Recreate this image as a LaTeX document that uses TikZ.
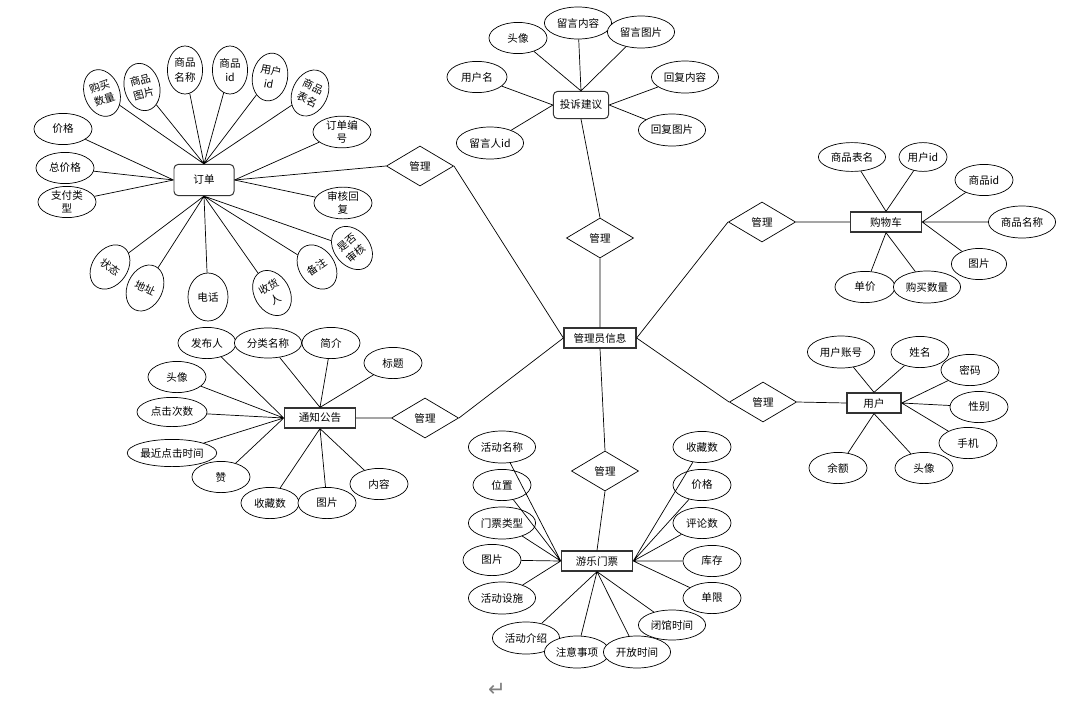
\documentclass[tikz,border=0pt]{standalone}
\usepackage{fontspec}
\setmainfont{Noto Sans CJK SC}
\newfontfamily\retfont{DejaVu Sans}
\usetikzlibrary{shapes.geometric}

\begin{document}
\begin{tikzpicture}[x=0.025cm, y=-0.025cm, line width=0.5pt, font=\fontsize{7.5}{9}\selectfont,
  attr/.style={ellipse, draw, fill=white, inner sep=0pt, minimum width=1.45cm, minimum height=0.78cm, align=center},
  wattr/.style={attr, minimum width=1.68cm, minimum height=0.8cm},
  vattr/.style={attr, minimum width=0.88cm, minimum height=1.2cm, font=\fontsize{7.5}{10}\selectfont},
  ent/.style={rectangle, draw=black!80, fill=white, line width=0.9pt, minimum width=1.78cm, minimum height=0.5cm, inner sep=1pt},
  rent/.style={ent, rounded corners=3pt, line width=0.7pt},
  rel/.style={diamond, draw, fill=white, inner sep=0pt, minimum width=1.68cm, minimum height=1cm}]
\useasboundingbox (0,0) rectangle (1073,711);

% centre
\node[ent, minimum width=1.8cm] (admin) at (600,338) {管理员信息};

% 订单
\node[rent, minimum width=1.5cm, minimum height=0.78cm] (order) at (204,180) {订单};
\node[attr] (o1) at (63,129) {价格};
\node[attr] (o2) at (65,168) {总价格};
\node[attr] (o3) at (67,202) {支付类\\型};
\node[vattr, rotate=20] (o4) at (102,93) {购买\\数量};
\node[vattr, rotate=15] (o5) at (142,87) {商品\\图片};
\node[vattr] (o6) at (185,70) {商品\\名称};
\node[vattr] (o7) at (230,70) {商品\\id};
\node[vattr, rotate=-10] (o8) at (270,77) {用户\\id};
\node[vattr, rotate=-25] (o9) at (310,93) {商品\\表名};
\node[attr] (o10) at (342,132) {订单编\\号};
\node[attr] (o11) at (343,203) {审核回\\复};
\node[vattr, rotate=35] (o13) at (317,267) {备注};
\node[vattr, rotate=40] (o12) at (352,248) {是否\\审核};
\node[vattr, rotate=30] (o14) at (272,293) {收货\\人};
\node[vattr, minimum width=1cm] (o15) at (208,297) {电话};
\node[vattr, rotate=-25] (o16) at (145,288) {地址};
\node[vattr, rotate=-35] (o17) at (110,267) {状态};
\node[rel] (r0) at (420,166) {管理};
\draw (order.west) -- (o1) (order.west) -- (o2) (order.west) -- (o3);
\draw (order.north) -- (o4) (order.north) -- (o5) (order.north) -- (o6)
      (order.north) -- (o7) (order.north) -- (o8) (order.north) -- (o9);
\draw (order.east) -- (o10) (order.east) -- (o11);
\draw (order.south) -- (o12) (order.south) -- (o13) (order.south) -- (o14)
      (order.south) -- (o15) (order.south) -- (o16) (order.south) -- (o17);
\draw (order.east) -- (r0.west) (r0.east) -- (admin.west);

% 投诉建议
\node[rent, minimum width=1.38cm, minimum height=0.68cm] (advice) at (581,105) {投诉建议};
\node[attr] (a1) at (518,38) {头像};
\node[wattr] (a2) at (578,23) {留言内容};
\node[wattr] (a3) at (641,32) {留言图片};
\node[attr, minimum width=1.5cm] (a4) at (477,77) {用户名};
\node[wattr] (a5) at (685,77) {回复内容};
\node[wattr] (a6) at (672,130) {回复图片};
\node[wattr] (a7) at (490,143) {留言人id};
\node[rel] (r1) at (600,238) {管理};
\draw (advice.north) -- (a1) (advice.north) -- (a2) (advice.north) -- (a3);
\draw (advice.west) -- (a4) (advice.west) -- (a7);
\draw (advice.east) -- (a5) (advice.east) -- (a6);
\draw (advice.south) -- (r1.north) (r1.south) -- (admin.north);

% 购物车
\node[ent] (cart) at (886,222) {购物车};
\node[wattr, minimum height=0.72cm] (c1) at (852,157) {商品表名};
\node[attr, minimum width=1.2cm, minimum height=0.72cm] (c2) at (923,157) {用户id};
\node[attr] (c3) at (984,180) {商品id};
\node[wattr] (c4) at (1022,222) {商品名称};
\node[attr, minimum width=1.38cm] (c5) at (979,264) {图片};
\node[attr, minimum width=1.5cm] (c6) at (865,287) {单价};
\node[wattr] (c7) at (927,287) {购买数量};
\node[rel] (r2) at (762,222) {管理};
\draw (cart.north) -- (c1) (cart.north) -- (c2);
\draw (cart.east) -- (c3) (cart.east) -- (c4) (cart.east) -- (c5);
\draw (cart.south) -- (c6) (cart.south) -- (c7);
\draw (admin.east) -- (r2.west) (r2.east) -- (cart.west);

% 用户
\node[ent, minimum width=1.35cm] (user) at (874,403) {用户};
\node[wattr] (u1) at (841,352) {用户账号};
\node[attr] (u2) at (920,352) {姓名};
\node[attr] (u3) at (970,370) {密码};
\node[attr] (u4) at (979,407) {性别};
\node[attr] (u5) at (968,443) {手机};
\node[attr] (u6) at (924,468) {头像};
\node[attr] (u7) at (838,468) {余额};
\node[rel] (r3) at (763,402) {管理};
\draw (user.north) -- (u1) (user.north) -- (u2);
\draw (user.east) -- (u3) (user.east) -- (u4) (user.east) -- (u5);
\draw (user.south) -- (u6) (user.south) -- (u7);
\draw (admin.east) -- (r3.west) (r3.east) -- (user.west);

% 通知公告
\node[ent] (notice) at (320,418) {通知公告};
\node[attr] (n1) at (207,343) {发布人};
\node[wattr, minimum height=0.75cm] (n2) at (268,343) {分类名称};
\node[attr] (n3) at (331,343) {简介};
\node[attr] (n4) at (393,363) {标题};
\node[attr] (n5) at (177,377) {头像};
\node[attr, minimum width=1.75cm, minimum height=0.73cm] (n6) at (172,412) {点击次数};
\node[attr] (n8) at (221,477) {赞};
\node[attr, minimum width=2.22cm, minimum height=0.68cm] (n7) at (172,453) {最近点击时间};
\node[attr] (n9) at (270,503) {收藏数};
\node[attr] (n10) at (327,503) {图片};
\node[attr] (n11) at (379,484) {内容};
\node[rel] (r4) at (425,418) {管理};
\draw (notice.west) -- (n1) (notice.west) -- (n5) (notice.west) -- (n6)
      (notice.west) -- (n7) (notice.west) -- (n8);
\draw (notice.north) -- (n2) (notice.north) -- (n3) (notice.north) -- (n4);
\draw (notice.south) -- (n9) (notice.south) -- (n10) (notice.south) -- (n11);
\draw (admin.west) -- (r4.east) (r4.west) -- (notice.east);

% 游乐门票
\node[ent] (ticket) at (597,561) {游乐门票};
\node[wattr] (t1) at (502,447) {活动名称};
\node[attr] (t2) at (502,485) {位置};
\node[wattr] (t3) at (502,523) {门票类型};
\node[attr] (t4) at (492,560) {图片};
\node[wattr] (t5) at (502,598) {活动设施};
\node[wattr] (t6) at (526,638) {活动介绍};
\node[wattr, minimum width=1.63cm] (t7) at (577,652) {注意事项};
\node[wattr, minimum height=0.75cm] (t9) at (672,625) {闭馆时间};
\node[wattr] (t8) at (637,652) {开放时间};
\node[attr] (t10) at (712,598) {单限};
\node[attr] (t11) at (712,561) {库存};
\node[attr] (t12) at (702,523) {评论数};
\node[attr] (t13) at (702,485) {价格};
\node[attr] (t14) at (702,447) {收藏数};
\node[rel] (r5) at (605,471) {管理};
\draw (ticket.west) -- (t1) (ticket.west) -- (t2) (ticket.west) -- (t3)
      (ticket.west) -- (t4) (ticket.west) -- (t5);
\draw (ticket.south) -- (t6) (ticket.south) -- (t7) (ticket.south) -- (t8)
      (ticket.south) -- (t9);
\draw (ticket.east) -- (t10) (ticket.east) -- (t11) (ticket.east) -- (t12)
      (ticket.east) -- (t13) (ticket.east) -- (t14);
\draw (admin.south) -- (r5.north) (r5.south) -- (ticket.north);

\node[text=gray, font=\retfont\fontsize{15}{15}\selectfont] (ret) at (497,690) {↵};
\end{tikzpicture}
\end{document}
